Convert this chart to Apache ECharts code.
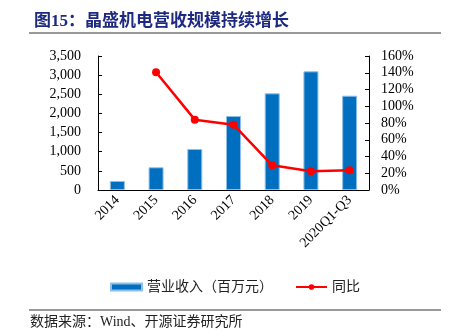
<!DOCTYPE html>
<html>
<head>
<meta charset="utf-8">
<script src="https://cdn.jsdelivr.net/npm/echarts@6/dist/echarts.min.js"></script>
<style>
  html, body { margin: 0; padding: 0; background: #fff; }
  #chart { width: 449px; height: 332px; }
</style>
</head>
<body>
<div id="chart"></div>
<script>
// Revenue (million CNY) and year-over-year growth (%)
const categories = ['2014', '2015', '2016', '2017', '2018', '2019', '2020Q1-Q3'];
const revenue = [236, 593, 1071, 1933, 2525, 3100, 2463];
const yoyGrowth = [null, 140.5, 84, 78, 29.5, 22.3, 23.5];
const leftTicks = { min: 0, max: 3500, interval: 500 };
const rightTicks = { min: 0, max: 160, interval: 20 };

const serif = '"Liberation Serif", "Times New Roman", "Noto Sans CJK SC", serif';
const cjk = '"Liberation Serif", "Noto Sans CJK SC", serif';

const chart = echarts.init(document.getElementById('chart'));
chart.setOption({
  animation: false,
  title: {
    text: '图15：晶盛机电营收规模持续增长',
    left: 29,
    top: 8,
    textStyle: { fontFamily: cjk, fontSize: 17, fontWeight: 'bold', color: '#1d2a80' }
  },
  graphic: [
    { type: 'line', shape: { x1: 29, y1: 33, x2: 441, y2: 33 }, style: { stroke: '#333', lineWidth: 1 } },
    { type: 'line', shape: { x1: 29, y1: 310, x2: 441, y2: 310 }, style: { stroke: '#999', lineWidth: 2 } },
    {
      type: 'text', left: 30, top: 315,
      style: { text: '数据来源：Wind、开源证券研究所', font: '14px ' + cjk, fill: '#222' }
    }
  ],
  legend: {
    left: 105,
    top: 275,
    itemWidth: 31,
    itemHeight: 7,
    itemGap: 22,
    textStyle: { fontFamily: cjk, fontSize: 14, color: '#222' },
    data: [
      { name: '营业收入（百万元）', icon: 'rect' },
      { name: '同比' }
    ]
  },
  grid: { left: 98, right: 80, top: 56, bottom: 142 },
  xAxis: {
    type: 'category',
    data: categories,
    axisLine: { lineStyle: { color: '#000', width: 1 } },
    axisTick: { inside: true, length: 4, lineStyle: { color: '#888' } },
    axisLabel: { rotate: 45, fontFamily: serif, fontSize: 14, color: '#000', margin: 8 }
  },
  yAxis: [
    {
      type: 'value',
      min: leftTicks.min, max: leftTicks.max, interval: leftTicks.interval,
      axisLine: { show: true, lineStyle: { color: '#000' } },
      axisTick: { show: true, inside: true, length: 4, lineStyle: { color: '#000' } },
      splitLine: { show: false },
      axisLabel: {
        fontFamily: serif, fontSize: 14, color: '#000', margin: 17,
        formatter: v => v.toLocaleString('en-US')
      }
    },
    {
      type: 'value',
      position: 'right',
      min: rightTicks.min, max: rightTicks.max, interval: rightTicks.interval,
      axisLine: { show: true, lineStyle: { color: '#000' } },
      axisTick: { show: true, inside: true, length: 4, lineStyle: { color: '#000' } },
      splitLine: { show: false },
      axisLabel: { fontFamily: serif, fontSize: 14, color: '#000', margin: 12, formatter: '{value}%' }
    }
  ],
  series: [
    {
      name: '营业收入（百万元）',
      type: 'bar',
      data: revenue,
      barWidth: 15,
      itemStyle: { color: '#006fc0', borderColor: '#8fbfe8', borderWidth: 1 }
    },
    {
      name: '同比',
      type: 'line',
      yAxisIndex: 1,
      data: yoyGrowth,
      symbol: 'circle',
      symbolSize: 8,
      lineStyle: { color: '#ff0000', width: 2.5 },
      itemStyle: { color: '#ff0000' }
    }
  ]
});
</script>
</body>
</html>
